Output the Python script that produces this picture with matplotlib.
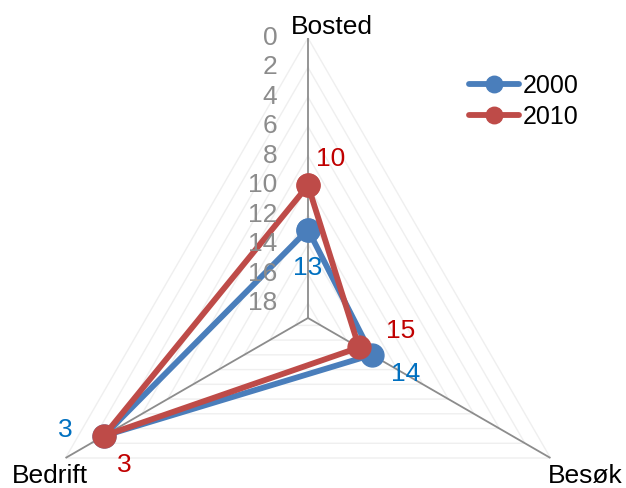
import numpy as np
import matplotlib
matplotlib.use("Agg")
import matplotlib.pyplot as plt

plt.rcParams['font.family'] = ['Liberation Sans', 'DejaVu Sans']

categories = ["Bosted", "Besøk", "Bedrift"]
values_2000 = [13, 14, 3]
values_2010 = [10, 15, 3]
ticks = [0, 2, 4, 6, 8, 10, 12, 14, 16, 18]
r_center = 19

blue = '#4A7EBB'
red = '#BE4B48'
blue_txt = '#0070C0'
red_txt = '#C00000'

angles = np.linspace(0, 2 * np.pi, len(categories), endpoint=False)
closed = np.append(angles, angles[0])

fig = plt.figure(figsize=(6.26, 4.88), dpi=100)
ax = fig.add_axes([0.0447, -0.2254, 0.8946, 1.1475], projection='polar')
ax.set_theta_offset(np.pi / 2)
ax.set_theta_direction(-1)
ax.set_rlim(r_center, 0)
ax.spines['polar'].set_visible(False)
ax.patch.set_visible(False)
ax.set_thetagrids(np.degrees(angles), [''] * len(categories))
ax.set_yticks([])
ax.yaxis.grid(False)
ax.xaxis.grid(True, color='#8c8c8c', lw=1.3)

# triangle gridlines
for t in ticks:
    ax.plot(closed, [t] * len(closed), color='#efefef', lw=1, zorder=1)

# series
for vals, col, name in [(values_2000, blue, '2000'), (values_2010, red, '2010')]:
    v = np.append(vals, vals[0])
    ax.plot(closed, v, color=col, lw=4.2, marker='o', markersize=16.5,
            solid_capstyle='round', label=name, zorder=3, clip_on=False)

# radial tick labels
for t in ticks:
    ax.annotate(str(t), (0, t), xytext=(-22, 0), textcoords='offset points',
                ha='right', va='center', fontsize=19, color='#8c8c8c',
                annotation_clip=False)

# category labels
cat_off = [(17, 8), (25, -13), (-11, -13)]
for a, name, off in zip(angles, categories, cat_off):
    ax.annotate(name, (a, 0), xytext=off, textcoords='offset points',
                ha='center', va='center', fontsize=19, color='black',
                annotation_clip=False)

# data labels
off_2000 = [(0, -28), (24, -14), (-28, 4)]
off_2010 = [(16, 19), (30, 12), (15, -21)]
for a, v, off in zip(angles, values_2000, off_2000):
    ax.annotate(str(v), (a, v), xytext=off, textcoords='offset points',
                ha='center', va='center', fontsize=19, color=blue_txt,
                annotation_clip=False, zorder=4)
for a, v, off in zip(angles, values_2010, off_2010):
    ax.annotate(str(v), (a, v), xytext=off, textcoords='offset points',
                ha='center', va='center', fontsize=19, color=red_txt,
                annotation_clip=False, zorder=4)

fig.legend(loc='upper left', bbox_to_anchor=(0.714, 0.895), frameon=False,
           fontsize=18, handlelength=2.0, handletextpad=0.15, labelspacing=0.3,
           markerscale=0.72)

fig.savefig('out.png', dpi=100)
